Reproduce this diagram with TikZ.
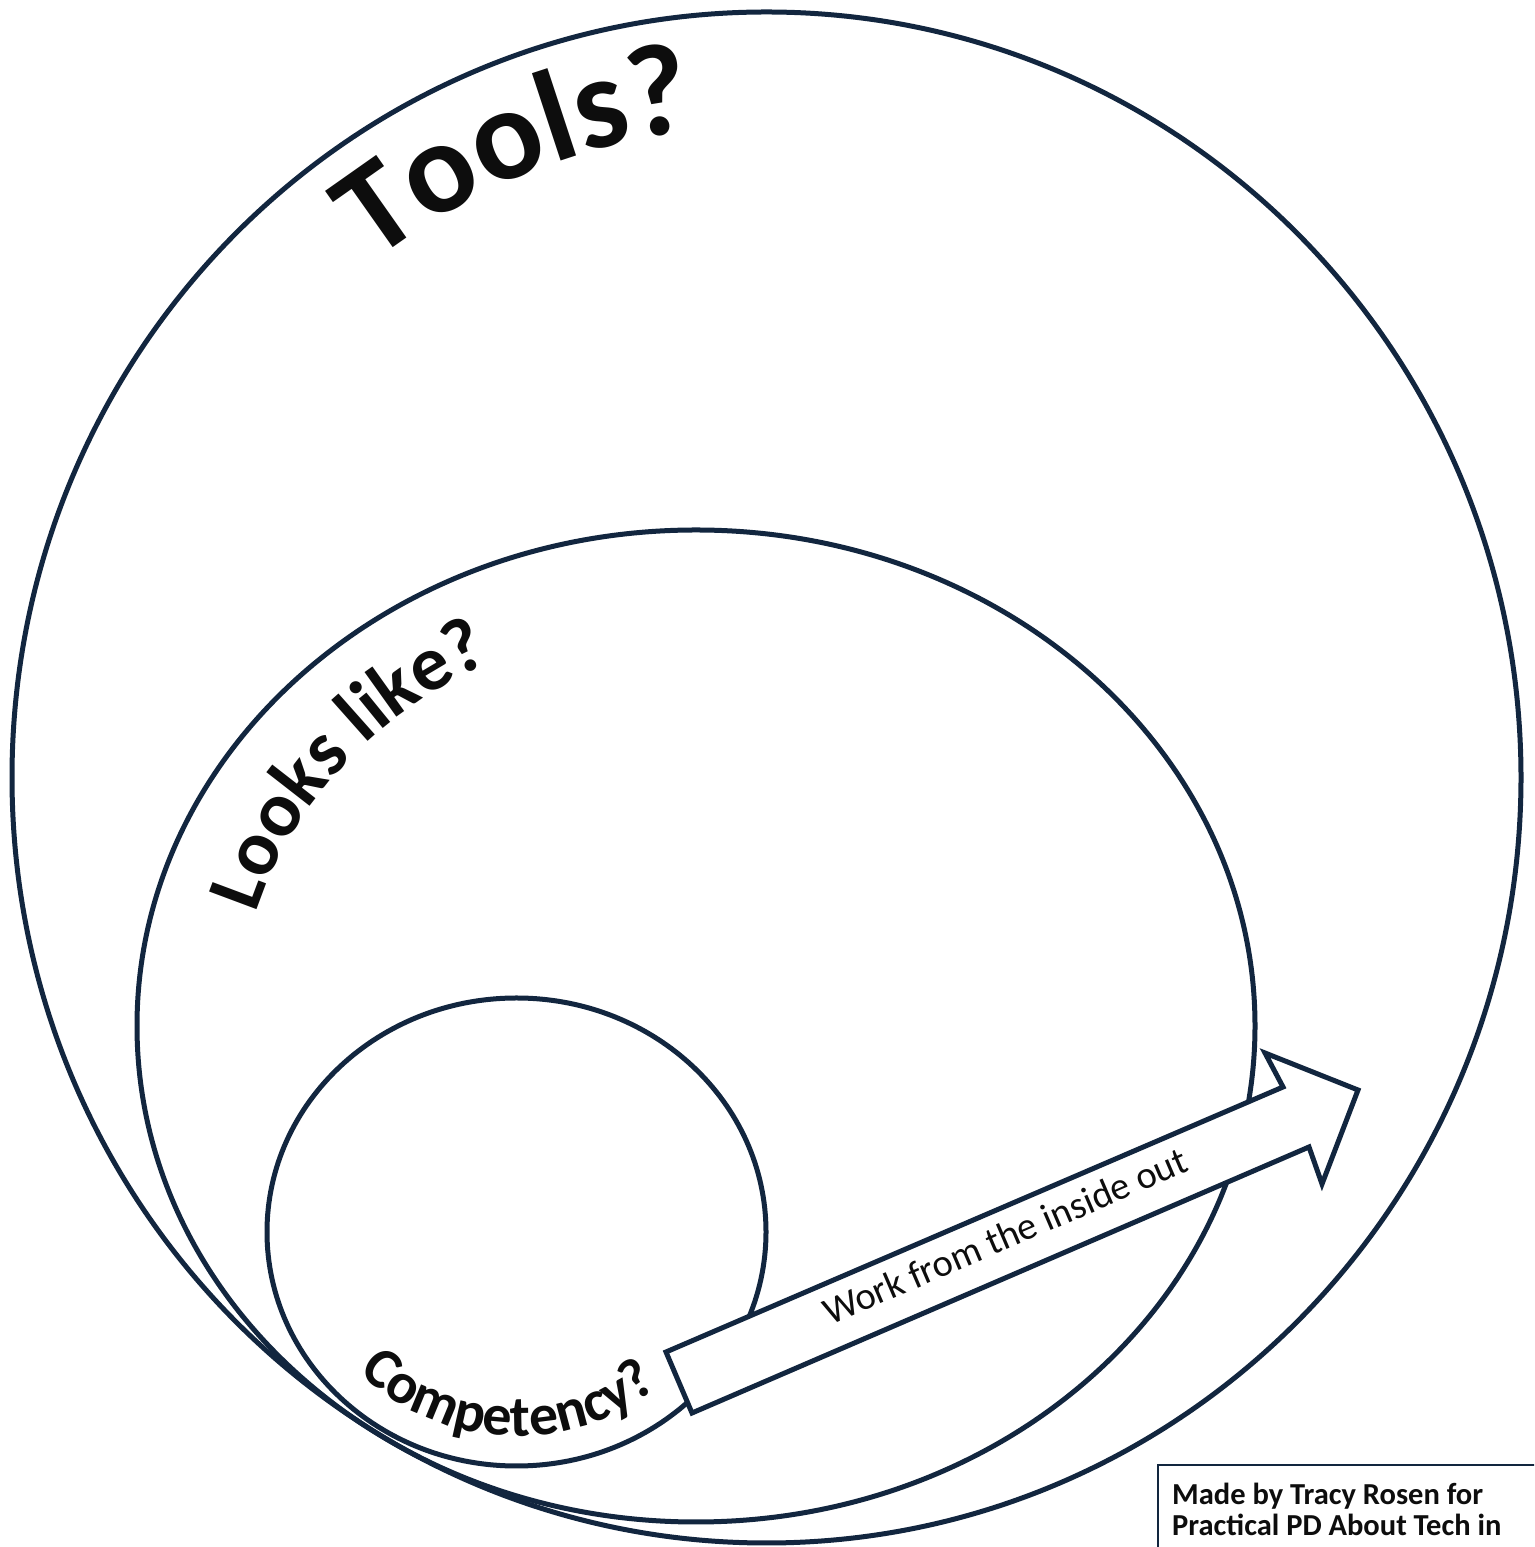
\documentclass[tikz,border=0pt]{standalone}
\usepackage{fontspec}
\setmainfont{Carlito}
\usetikzlibrary{decorations.text}
\definecolor{navy}{HTML}{12263F}
\definecolor{ink}{HTML}{0D0D0D}
\newcommand\ToolsFont{\bfseries\fontsize{131}{156}\selectfont}
\newcommand\LooksFont{\bfseries\fontsize{78}{94}\selectfont}
\newcommand\CompFont{\bfseries\fontsize{58}{70}\selectfont}
\begin{document}
\begin{tikzpicture}[x=1pt,y=1pt,
  ring/.style={draw=navy, line width=5pt},
  blockarrow/.style={draw=navy, line width=5pt, fill=white, line join=miter},
  credit/.style={anchor=base west, text=ink, font=\bfseries\fontsize{30.5}{37}\selectfont, inner sep=0pt},
  creditbox/.style={draw=navy, line width=1.3pt}]
\useasboundingbox (0,0) rectangle (1534,1547);
\clip (0,0) rectangle (1534,1547);
\fill[white] (0,0) rectangle (1534,1547);
\coordinate (oc) at (766.5,769.5);
\coordinate (mc) at (696,521);
\coordinate (ic) at (516.5,315);
% circles
\draw[ring] (oc) ellipse [x radius=754.5, y radius=765.5];
\draw[ring] (mc) ellipse [x radius=559, y radius=496];
\draw[ring] (ic) ellipse [x radius=249.5, y radius=234];
% block arrow
\coordinate (a1) at (666,195);
\coordinate (a2) at (1283,460);
\coordinate (a3) at (1265,494);
\coordinate (a4) at (1358,457);
\coordinate (a5) at (1322,363);
\coordinate (a6) at (1309,400);
\coordinate (a7) at (692,134);
\draw[blockarrow] (a1) -- (a2) -- (a3) -- (a4) -- (a5) -- (a6) -- (a7) -- cycle;
\node[rotate=23.25, text=ink, font=\fontsize{38.5}{46}\selectfont, inner sep=0pt] (work) at (1005,311) {Work from the inside out};
% curved labels
\path[decorate, decoration={text along path, text align=center, text={|\color{ink}\ToolsFont|Tools?}}]
  (oc) ++(142:642pt and 651pt) arc[start angle=142, end angle=82, x radius=642pt, y radius=651pt];
\path[decorate, decoration={text along path, text align=center, text={|\color{ink}\LooksFont|Looks like?}}]
  (mc) ++(188:458pt and 407pt) arc[start angle=188, end angle=95, x radius=458pt, y radius=407pt];
\path[decorate, decoration={text along path, text align=center, text={|\color{ink}\CompFont|Competency?}}]
  (ic) ++(205:217pt and 204pt) arc[start angle=205, end angle=329, x radius=217pt, y radius=204pt];
% credit box
\draw[creditbox] (1158,82) rectangle (1600,-40);
\node[credit] (made1) at (1172,42) {Made by Tracy Rosen for};
\node[credit] (made2) at (1172,11) {Practical PD About Tech in};
\end{tikzpicture}
\end{document}
